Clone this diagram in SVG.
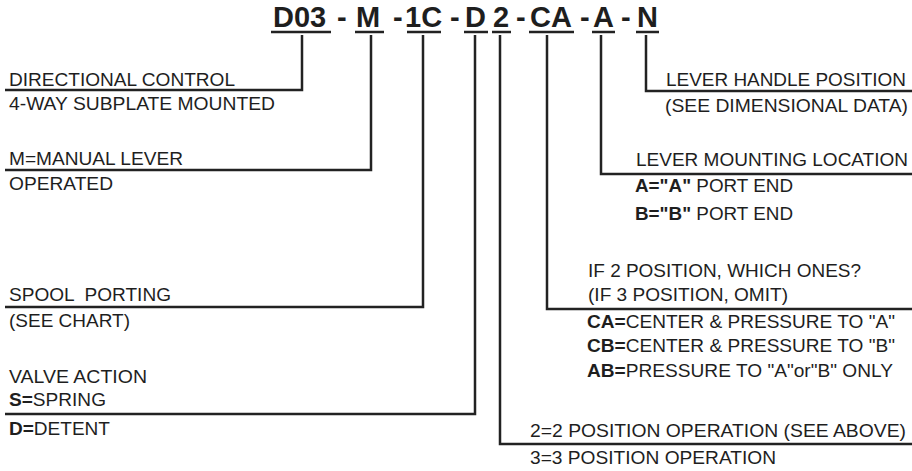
<svg xmlns="http://www.w3.org/2000/svg" width="912" height="471" viewBox="0 0 912 471">
<style>
.ln{stroke:#222;stroke-width:2.5;fill:none;stroke-linejoin:miter}
.ul{stroke:#222;stroke-width:2.5}
.t{font-family:"Liberation Sans",Arial,sans-serif;font-size:18px;fill:#1e1e1e}
.h{font-family:"Liberation Sans",Arial,sans-serif;font-size:29px;font-weight:bold;fill:#1e1e1e}
.b{font-weight:bold}
</style>
<rect width="912" height="471" fill="#fff"/>
<g id="code">
<text class="h" x="273" y="27">D03</text>
<text class="h" x="337" y="27">-</text>
<text class="h" x="356" y="27">M</text>
<text class="h" x="393" y="27">-</text>
<text class="h" x="405" y="27">1C</text>
<text class="h" x="450" y="27">-</text>
<text class="h" x="465" y="27">D</text>
<text class="h" x="493" y="27">2</text>
<text class="h" x="516" y="27">-</text>
<text class="h" x="530" y="27">CA</text>
<text class="h" x="580" y="27">-</text>
<text class="h" x="593" y="27">A</text>
<text class="h" x="621" y="27">-</text>
<text class="h" x="637" y="27">N</text>
<line class="ul" x1="271" y1="32" x2="331" y2="32"/>
<line class="ul" x1="355" y1="32" x2="384" y2="32"/>
<line class="ul" x1="407" y1="32" x2="441" y2="32"/>
<line class="ul" x1="464" y1="32" x2="488" y2="32"/>
<line class="ul" x1="492" y1="32" x2="511" y2="32"/>
<line class="ul" x1="529" y1="32" x2="574" y2="32"/>
<line class="ul" x1="592" y1="32" x2="615" y2="32"/>
<line class="ul" x1="636" y1="32" x2="659" y2="32"/>
</g>
<g id="connectors">
<path class="ln" d="M302,35 V90 H5"/>
<path class="ln" d="M371,35 V170 H5"/>
<path class="ln" d="M423,35 V307 H5"/>
<path class="ln" d="M475,35 V414 H5"/>
<path class="ln" d="M500,35 V444 H912"/>
<path class="ln" d="M547,35 V309 H912"/>
<path class="ln" d="M601,35 V174 H912"/>
<path class="ln" d="M646,35 V91 H912"/>
</g>
<g id="directional-control">
<text class="t" x="9" y="86" textLength="226" lengthAdjust="spacingAndGlyphs">DIRECTIONAL CONTROL</text>
<text class="t" x="9" y="110" textLength="266" lengthAdjust="spacingAndGlyphs">4-WAY SUBPLATE MOUNTED</text>
</g>
<g id="manual-lever">
<text class="t" x="9" y="165" textLength="174" lengthAdjust="spacingAndGlyphs">M=MANUAL LEVER</text>
<text class="t" x="9" y="190" textLength="104" lengthAdjust="spacingAndGlyphs">OPERATED</text>
</g>
<g id="spool-porting">
<text class="t" x="9" y="301" textLength="162" lengthAdjust="spacingAndGlyphs" xml:space="preserve">SPOOL  PORTING</text>
<text class="t" x="9" y="327" textLength="121" lengthAdjust="spacingAndGlyphs">(SEE CHART)</text>
</g>
<g id="valve-action">
<text class="t" x="9" y="383" textLength="138" lengthAdjust="spacingAndGlyphs">VALVE ACTION</text>
<text class="t" x="9" y="406" textLength="97" lengthAdjust="spacingAndGlyphs"><tspan class="b">S=</tspan>SPRING</text>
<text class="t" x="9" y="435" textLength="101" lengthAdjust="spacingAndGlyphs"><tspan class="b">D=</tspan>DETENT</text>
</g>
<g id="lever-handle">
<text class="t" x="666" y="86" textLength="240" lengthAdjust="spacingAndGlyphs">LEVER HANDLE POSITION</text>
<text class="t" x="665" y="112" textLength="243" lengthAdjust="spacingAndGlyphs">(SEE DIMENSIONAL DATA)</text>
</g>
<g id="lever-mounting">
<text class="t" x="636" y="166" textLength="272" lengthAdjust="spacingAndGlyphs">LEVER MOUNTING LOCATION</text>
<text class="t" x="635" y="192" textLength="158" lengthAdjust="spacingAndGlyphs"><tspan class="b">A="A"</tspan> PORT END</text>
<text class="t" x="635" y="220" textLength="158" lengthAdjust="spacingAndGlyphs"><tspan class="b">B="B"</tspan> PORT END</text>
</g>
<g id="two-position">
<text class="t" x="588" y="277" textLength="273" lengthAdjust="spacingAndGlyphs">IF 2 POSITION, WHICH ONES?</text>
<text class="t" x="588" y="301" textLength="200" lengthAdjust="spacingAndGlyphs">(IF 3 POSITION, OMIT)</text>
<text class="t" x="587" y="328" textLength="308" lengthAdjust="spacingAndGlyphs"><tspan class="b">CA=</tspan>CENTER &amp; PRESSURE TO "A"</text>
<text class="t" x="587" y="352" textLength="308" lengthAdjust="spacingAndGlyphs"><tspan class="b">CB=</tspan>CENTER &amp; PRESSURE TO "B"</text>
<text class="t" x="587" y="377" textLength="306" lengthAdjust="spacingAndGlyphs"><tspan class="b">AB=</tspan>PRESSURE TO "A"or"B" ONLY</text>
</g>
<g id="position-operation">
<text class="t" x="530" y="437" textLength="376" lengthAdjust="spacingAndGlyphs">2=2 POSITION OPERATION (SEE ABOVE)</text>
<text class="t" x="530" y="464" textLength="246" lengthAdjust="spacingAndGlyphs">3=3 POSITION OPERATION</text>
</g>
</svg>
